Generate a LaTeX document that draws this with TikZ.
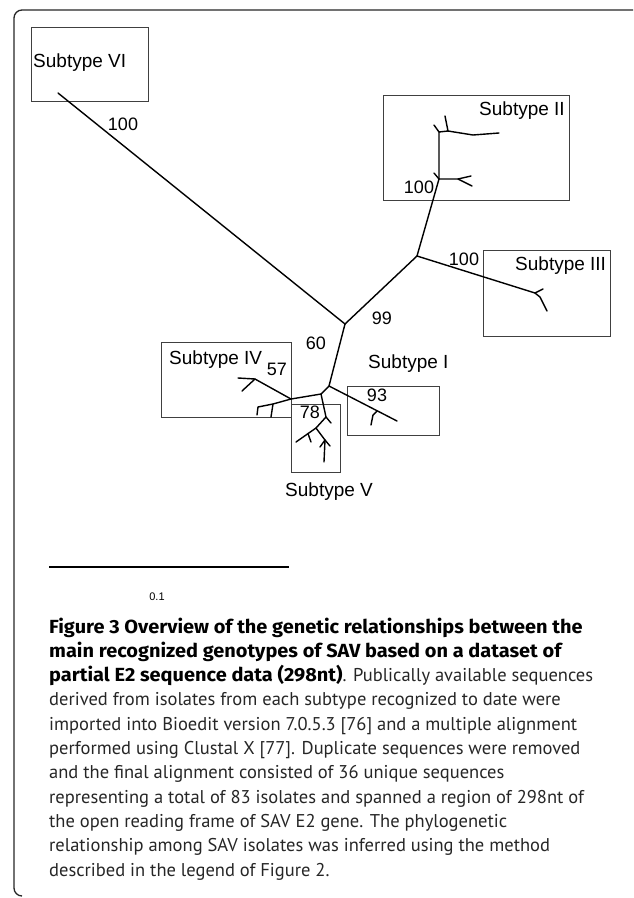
\documentclass[tikz,border=0pt]{standalone}
\usepackage{fontspec}
\setmainfont{Liberation Sans}
\newfontfamily\capfont{PT Sans}
\newfontfamily\capbf{Fira Sans}[FakeStretch=1.05]
\begin{document}
\begin{tikzpicture}[x=1pt,y=-1pt,
  br/.style={line width=1.4pt, line cap=round, line join=round},
  bx/.style={draw=black!75, line width=0.9pt, inner sep=0pt, anchor=north west},
  lab/.style={inner sep=0pt, font=\fontsize{19}{22}\selectfont, anchor=west},
  num/.style={inner sep=0pt, font=\fontsize{18}{21}\selectfont},
  captxt/.style={inner sep=0pt, anchor=base west, text=black!85, font=\capfont\fontsize{18.5}{24}\selectfont},
  capbold/.style={font=\capbf\bfseries\fontsize{19}{24}\selectfont}]
\useasboundingbox (0,0) rectangle (633,898);
% frame
\coordinate (f1) at (633,10);
\coordinate (f2) at (14,10);
\coordinate (f3) at (14,896);
\coordinate (f4) at (22,896);
\draw[line width=1.3pt, black!85, rounded corners=8pt] (f1) -- (f2) -- (f3) -- (f4);
% boxes
\node[bx, minimum width=117pt, minimum height=74pt] (bVI) at (31,27) {};
\node[bx, minimum width=186pt, minimum height=105pt] (bII) at (383,95) {};
\node[bx, minimum width=127pt, minimum height=86pt] (bIII) at (483,250) {};
\node[bx, minimum width=130pt, minimum height=75pt] (bIV) at (161,342) {};
\node[bx, minimum width=92pt, minimum height=49pt] (bI) at (347,386) {};
\node[bx, minimum width=49pt, minimum height=68pt] (bV) at (291,404) {};
% tree coordinates
\coordinate (c0) at (345,324);
\coordinate (vi) at (58,93);
\coordinate (n3) at (417,256);
\coordinate (n2) at (439,179);
\coordinate (a2) at (439,132);
\coordinate (t2a) at (434,125);
\coordinate (b2) at (448,131);
\coordinate (t2b) at (445,116);
\coordinate (c2) at (473,135);
\coordinate (t2c) at (499,133);
\coordinate (d2) at (458,179);
\coordinate (t2d) at (471,176);
\coordinate (t2e) at (472,186);
\coordinate (t2f) at (434,173);
\coordinate (a3) at (535,293);
\coordinate (t3a) at (543,289);
\coordinate (b3) at (540,297);
\coordinate (t3b) at (547,311);
\coordinate (nlow) at (329,386);
\coordinate (t1) at (397,421);
\coordinate (m1) at (377,411);
\coordinate (m1b) at (373,415);
\coordinate (t1b) at (371,425);
\coordinate (n45) at (321,394);
\coordinate (n4) at (291,399);
\coordinate (a4) at (255,379);
\coordinate (t4a) at (238,378);
\coordinate (t4b) at (242,391);
\coordinate (b4) at (273,404);
\coordinate (c4) at (258,407);
\coordinate (t4c) at (257,415);
\coordinate (t4d) at (271,417);
\coordinate (a5) at (326,417);
\coordinate (t5a) at (331,423);
\coordinate (b5) at (316,428);
\coordinate (t5b) at (296,442);
\coordinate (c5) at (308,433.6);
\coordinate (t5c) at (311,442);
\coordinate (d5) at (325,440);
\coordinate (t5d) at (324,462);
\coordinate (t5e) at (320,447);
\coordinate (t5f) at (330,446);
% branches
\draw[br] (vi) -- (c0);
\draw[br] (c0) -- (n3);
\draw[br] (n3) -- (n2) -- (a2) -- (b2) -- (c2) -- (t2c);
\draw[br] (a2) -- (t2a);
\draw[br] (b2) -- (t2b);
\draw[br] (n2) -- (d2) -- (t2d);
\draw[br] (d2) -- (t2e);
\draw[br] (n2) -- (t2f);
\draw[br] (n3) -- (a3) -- (b3) -- (t3b);
\draw[br] (a3) -- (t3a);
\draw[br] (c0) -- (nlow) -- (t1);
\draw[br] (m1) -- (m1b) -- (t1b);
\draw[br] (nlow) -- (n45) -- (n4) -- (a4) -- (t4a);
\draw[br] (a4) -- (t4b);
\draw[br] (n4) -- (b4) -- (c4) -- (t4c);
\draw[br] (b4) -- (t4d);
\draw[br] (n45) -- (a5) -- (t5a);
\draw[br] (a5) -- (b5) -- (t5b);
\draw[br] (c5) -- (t5c);
\draw[br] (b5) -- (d5) -- (t5d);
\draw[br] (d5) -- (t5e);
\draw[br] (d5) -- (t5f);
% labels
\node[lab] (lVI) at (33,63) {Subtype VI};
\node[lab] (lII) at (479,111) {Subtype II};
\node[lab] (lIII) at (515,266) {Subtype III};
\node[lab] (lIV) at (169,360) {Subtype IV};
\node[lab] (lI) at (368,364) {Subtype I};
\node[lab] (lV) at (285,492) {Subtype V};
\node[num] (v100a) at (123,124) {100};
\node[num] (v100b) at (419,187) {100};
\node[num] (v100c) at (464,259) {100};
\node[num] (v99) at (382,318) {99};
\node[num] (v60) at (316,343) {60};
\node[num] (v57) at (277,369) {57};
\node[num] (v93) at (377,395) {93};
\node[num] (v78) at (310,412) {78};
% scale bar
\coordinate (s1) at (49,567);
\coordinate (s2) at (289,567);
\draw[line width=1.2pt] (s1) -- (s2);
\node[inner sep=0pt, font=\fontsize{11}{13}\selectfont] (sc) at (157,597) {0.1};
% caption
\node[captxt, capbold, text=black] (cap1) at (49,633) {Figure 3 Overview of the genetic relationships between the};
\node[captxt, capbold, text=black] (cap2) at (49,657.3) {main recognized genotypes of SAV based on a dataset of};
\node[captxt] (cap3) at (49,681.6) {{\capbf\bfseries\fontsize{19}{24}\selectfont\color{black}partial E2 sequence data (298nt)}. Publically available sequences};
\node[captxt] (cap4) at (49,705.9) {derived from isolates from each subtype recognized to date were};
\node[captxt] (cap5) at (49,730.2) {imported into Bioedit version 7.0.5.3 [76] and a multiple alignment};
\node[captxt] (cap6) at (49,754.5) {performed using Clustal X [77]. Duplicate sequences were removed};
\node[captxt] (cap7) at (49,778.8) {and the final alignment consisted of 36 unique sequences};
\node[captxt] (cap8) at (49,803.1) {representing a total of 83 isolates and spanned a region of 298nt of};
\node[captxt] (cap9) at (49,827.4) {the open reading frame of SAV E2 gene. The phylogenetic};
\node[captxt] (cap10) at (49,851.7) {relationship among SAV isolates was inferred using the method};
\node[captxt] (cap11) at (49,876) {described in the legend of Figure 2.};
\end{tikzpicture}
\end{document}
